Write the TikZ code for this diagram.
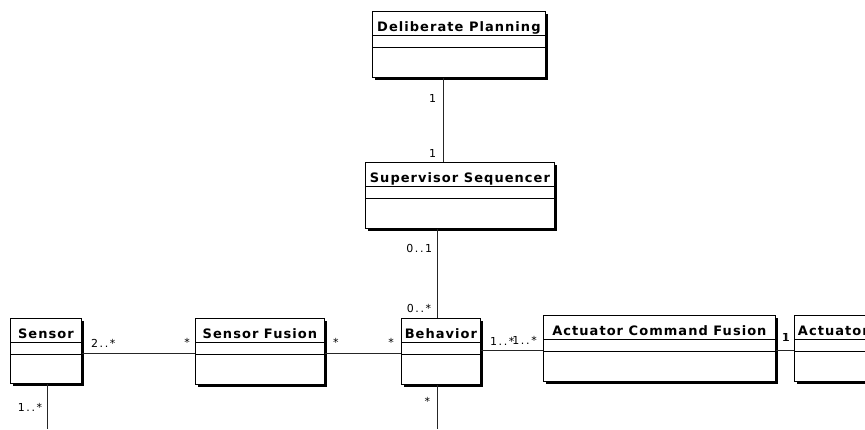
\documentclass[tikz,border=0pt]{standalone}
\usepackage{fontspec}
\usepackage{tikz}
\usetikzlibrary{positioning,calc,shadows}
\newfontfamily\titlefont[LetterSpace=8]{DejaVu Sans}
\newfontfamily\multfont[LetterSpace=15]{DejaVu Sans}
\tikzset{
  umlclass/.style={draw=black, fill=white, line width=0.8pt, anchor=north west, inner sep=0pt, minimum height=66pt,
    drop shadow={shadow xshift=3pt, shadow yshift=-3pt, opacity=1, fill=black},
    path picture={
      \draw[line width=0.8pt] ([yshift=-24pt]path picture bounding box.north west) -- ([yshift=-24pt]path picture bounding box.north east);
      \draw[line width=0.8pt] ([yshift=-35.5pt]path picture bounding box.north west) -- ([yshift=-35.5pt]path picture bounding box.north east);
    }},
  ctitle/.style={anchor=base, font=\titlefont\bfseries\fontsize{13}{15}\selectfont, inner sep=0pt},
  mult/.style={font=\multfont\fontsize{11}{13}\selectfont, inner sep=0pt},
  assoc/.style={draw=black!85, line width=0.8pt},
}
\begin{document}
\begin{tikzpicture}[x=1pt, y=-1pt]
  \useasboundingbox (0,0) rectangle (865,429);
  \clip (0,0) rectangle (865,429);
  \coordinate (bottom) at (0,429);

  \node[umlclass, minimum width=173pt] (plan) at (372,11) {};
  \node[umlclass, minimum width=189pt] (seq) at (365,162) {};
  \node[umlclass, minimum width=71pt, minimum height=65pt] (sensor) at (10,318) {};
  \node[umlclass, minimum width=129pt] (fusion) at (195,318) {};
  \node[umlclass, minimum width=79pt] (behavior) at (401,318) {};
  \node[umlclass, minimum width=232pt] (acf) at (543,315) {};
  \node[umlclass, minimum width=78pt] (actuator) at (794,315) {};

  \node[ctitle] (plantitle) at ([yshift=-20pt]plan.north) {Deliberate Planning};
  \node[ctitle] (seqtitle) at ([yshift=-20pt]seq.north) {Supervisor Sequencer};
  \node[ctitle] (sensortitle) at ([yshift=-20pt]sensor.north) {Sensor};
  \node[ctitle] (fusiontitle) at ([yshift=-20pt]fusion.north) {Sensor Fusion};
  \node[ctitle] (behaviortitle) at ([yshift=-20pt]behavior.north) {Behavior};
  \node[ctitle] (acftitle) at ([yshift=-20pt]acf.north) {Actuator Command Fusion};
  \node[ctitle] (actuatortitle) at ([yshift=-20pt]actuator.north) {Actuator};

  \draw[assoc] ([xshift=-15.5pt]plan.south) -- ([xshift=-15.5pt]plan.south |- seq.north);
  \draw[assoc] ([xshift=-3.5pt]behavior.north) -- ([xshift=-3.5pt]behavior.north |- seq.south);
  \draw[assoc] ([xshift=-3.5pt]behavior.south) -- ([xshift=-3.5pt]behavior.south |- bottom);
  \draw[assoc] ([xshift=1.5pt]sensor.south) -- ([xshift=1.5pt]sensor.south |- bottom);
  \draw[assoc] ([yshift=-35.5pt]sensor.north east) -- ([yshift=-35.5pt]fusion.north west);
  \draw[assoc] ([yshift=-35.5pt]fusion.north east) -- ([yshift=-35.5pt]behavior.north west);
  \draw[assoc] ([yshift=-35pt]acf.north west) -- ([yshift=-35pt]acf.north west -| behavior.east);
  \draw[assoc] ([yshift=-35pt]acf.north east) -- ([yshift=-35pt]actuator.north west);

  \node[mult, anchor=base east] (mplan) at ([xshift=-22.5pt, yshift=-25pt]plan.south) {1};
  \node[mult, anchor=base east] (mseqtop) at ([xshift=-23.5pt, yshift=5pt]seq.north) {1};
  \node[mult, anchor=base east] (mseqbot) at ([xshift=-27.5pt, yshift=-24pt]seq.south) {0..1};
  \node[mult, anchor=base east] (mbehtop) at ([xshift=-9.5pt, yshift=6pt]behavior.north) {0..*};
  \node[mult, anchor=base east] (mbehleft) at ([xshift=-7pt, yshift=-28pt]behavior.north west) {*};
  \node[mult, anchor=base west] (mfusright) at ([xshift=8pt, yshift=-28pt]fusion.north east) {*};
  \node[mult, anchor=base east] (mfusleft) at ([xshift=-5pt, yshift=-28pt]fusion.north west) {*};
  \node[mult, anchor=base west] (msensright) at ([xshift=9pt, yshift=-29pt]sensor.north east) {2..*};
  \node[mult, anchor=base west] (mbehright) at ([xshift=9pt, yshift=-27pt]behavior.north east) {1..*};
  \node[mult, anchor=base east] (macfleft) at ([xshift=-6pt, yshift=-29pt]acf.north west) {1..*};
  \node[mult, anchor=base west] (macfright) at ([xshift=7pt, yshift=-26pt]acf.north east) {1};
  \node[mult, anchor=base east] (mact) at ([xshift=-5pt, yshift=-26pt]actuator.north west) {1};
  \node[mult, anchor=base east] (msensbot) at ([xshift=-3.5pt, yshift=-28pt]sensor.south) {1..*};
  \node[mult, anchor=base east] (mbehbot) at ([xshift=-10.5pt, yshift=-21pt]behavior.south) {*};
\end{tikzpicture}
\end{document}
